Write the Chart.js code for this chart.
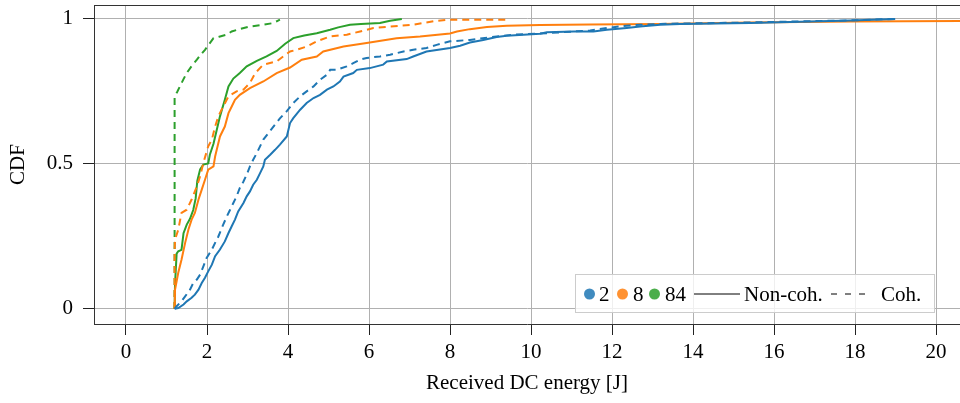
<!DOCTYPE html>
<html><head><meta charset="utf-8">
<script src="https://cdn.jsdelivr.net/npm/chart.js@4/dist/chart.umd.min.js"></script>
<style>
html,body{margin:0;padding:0;background:#fff;}
#wrap{position:relative;width:960px;height:403px;overflow:hidden;}
#legend{position:absolute;left:575px;top:274px;width:360px;height:39px;box-sizing:border-box;border:1px solid #cccccc;background:rgba(255,255,255,0.8);font-family:"Liberation Serif","Times New Roman",serif;font-size:21px;color:#000;}
#legend .i{position:absolute;top:19px;transform:translateY(-50%);white-space:nowrap;line-height:1;}
#legend .dot{width:11px;height:11px;border-radius:50%;}
</style>
</head><body>
<div id="wrap">
<canvas id="c" width="960" height="403"></canvas>
<div id="legend">
  <div class="i dot" style="left:8px;background:rgba(31,119,180,0.85)"></div>
  <div class="i" style="left:23px">2</div>
  <div class="i dot" style="left:41px;background:rgba(255,127,14,0.85)"></div>
  <div class="i" style="left:57px">8</div>
  <div class="i dot" style="left:73px;background:rgba(44,160,44,0.85)"></div>
  <div class="i" style="left:89px">84</div>
  <svg class="i" style="left:118px" width="46" height="4"><line x1="0" y1="2" x2="46" y2="2" stroke="#000" stroke-width="1"/></svg>
  <div class="i" style="left:168px">Non-coh.</div>
  <svg class="i" style="left:255px" width="36" height="4"><line x1="0" y1="2" x2="36" y2="2" stroke="#000" stroke-width="1" stroke-dasharray="6,8"/></svg>
  <div class="i" style="left:305px">Coh.</div>
</div>
</div>
<script>
// Tick labels
const xTicks = [0, 2, 4, 6, 8, 10, 12, 14, 16, 18, 20];
const yTicks = [0, 0.5, 1];

// N = 2, non-coherent
const n2NonCohX = [1.2, 1.29, 1.42, 1.50, 1.62, 1.70, 1.79, 1.87, 1.95, 2.03, 2.12, 2.20, 2.32, 2.44, 2.53, 2.61, 2.69, 2.77, 2.90, 2.98, 3.06, 3.14, 3.23, 3.31, 3.39, 3.43, 3.56, 3.68, 3.80, 3.97, 4.05, 4.13, 4.30, 4.46, 4.63, 4.79, 4.96, 5.12, 5.28, 5.37, 5.61, 5.70, 6.02, 6.35, 6.44, 6.93, 7.09, 7.42, 8.0, 8.25, 8.49, 8.82, 9.15, 9.40, 9.81, 10.22, 10.39, 11.05, 11.54, 11.87, 12.36, 12.69, 13.19, 13.68, 15.41, 17.88, 18.99];
const n2NonCohY = [0, 0.003, 0.015, 0.026, 0.038, 0.049, 0.066, 0.089, 0.107, 0.129, 0.152, 0.181, 0.204, 0.232, 0.261, 0.284, 0.307, 0.335, 0.364, 0.387, 0.404, 0.427, 0.444, 0.467, 0.490, 0.513, 0.530, 0.547, 0.565, 0.593, 0.639, 0.656, 0.685, 0.708, 0.725, 0.736, 0.754, 0.765, 0.782, 0.799, 0.811, 0.822, 0.828, 0.840, 0.851, 0.859, 0.868, 0.885, 0.897, 0.905, 0.916, 0.925, 0.935, 0.939, 0.943, 0.946, 0.951, 0.954, 0.954, 0.960, 0.966, 0.971, 0.977, 0.980, 0.983, 0.992, 0.997];

// N = 2, coherent
const n2CohX = [1.2, 1.25, 1.37, 1.46, 1.58, 1.66, 1.75, 1.83, 1.91, 1.99, 2.12, 2.20, 2.28, 2.40, 2.49, 2.57, 2.65, 2.73, 2.81, 2.90, 2.98, 3.06, 3.14, 3.23, 3.39, 3.64, 3.80, 3.97, 4.13, 4.30, 4.46, 4.63, 4.79, 4.96, 5.04, 5.20, 5.45, 5.61, 5.78, 5.94, 6.27, 6.52, 6.85, 7.09, 7.42, 7.67, 8.0, 8.49, 9.15, 9.56, 10.39, 11.05, 11.46, 11.87, 12.36, 12.69, 13.19, 15.41, 17.88, 18.99];
const n2CohY = [0, 0.009, 0.026, 0.043, 0.066, 0.089, 0.101, 0.118, 0.146, 0.175, 0.204, 0.227, 0.249, 0.290, 0.318, 0.341, 0.364, 0.387, 0.416, 0.438, 0.462, 0.490, 0.513, 0.536, 0.582, 0.627, 0.655, 0.680, 0.708, 0.731, 0.748, 0.765, 0.788, 0.805, 0.822, 0.822, 0.834, 0.845, 0.857, 0.863, 0.868, 0.874, 0.885, 0.891, 0.897, 0.908, 0.920, 0.925, 0.937, 0.943, 0.948, 0.954, 0.957, 0.966, 0.974, 0.977, 0.980, 0.985, 0.992, 0.997];

// N = 8, non-coherent
const n8NonCohX = [1.2, 1.21, 1.29, 1.37, 1.46, 1.54, 1.62, 1.70, 1.79, 1.87, 1.95, 2.03, 2.16, 2.20, 2.24, 2.32, 2.44, 2.53, 2.61, 2.69, 2.81, 3.06, 3.39, 3.72, 4.05, 4.34, 4.71, 4.87, 5.37, 5.94, 6.68, 7.26, 8.0, 8.17, 8.49, 8.91, 9.40, 10.22, 11.46, 13.19, 15.41, 17.88, 20.6];
const n8NonCohY = [0, 0.066, 0.124, 0.169, 0.227, 0.272, 0.307, 0.330, 0.376, 0.410, 0.444, 0.479, 0.490, 0.524, 0.547, 0.593, 0.627, 0.673, 0.696, 0.719, 0.736, 0.759, 0.782, 0.811, 0.830, 0.857, 0.868, 0.885, 0.902, 0.914, 0.931, 0.937, 0.947, 0.954, 0.962, 0.969, 0.974, 0.976, 0.978, 0.980, 0.985, 0.988, 0.990];

// N = 8, coherent
const n8CohX = [1.2, 1.2, 1.21, 1.29, 1.37, 1.50, 1.62, 1.75, 1.83, 1.91, 2.03, 2.12, 2.20, 2.28, 2.36, 2.53, 2.73, 2.90, 3.06, 3.19, 3.39, 3.72, 3.88, 4.05, 4.21, 4.46, 4.71, 5.04, 5.45, 5.78, 6.11, 6.52, 7.09, 7.59, 7.92, 9.4];
const n8CohY = [0, 0.2, 0.238, 0.272, 0.330, 0.341, 0.376, 0.421, 0.456, 0.502, 0.559, 0.582, 0.627, 0.662, 0.685, 0.731, 0.748, 0.754, 0.777, 0.811, 0.840, 0.851, 0.868, 0.885, 0.891, 0.902, 0.920, 0.937, 0.943, 0.954, 0.966, 0.971, 0.977, 0.989, 0.994, 0.994];

// N = 84, non-coherent
const n84NonCohX = [1.2, 1.21, 1.25, 1.29, 1.37, 1.42, 1.50, 1.58, 1.66, 1.72, 1.76, 1.83, 1.91, 2.03, 2.07, 2.16, 2.24, 2.32, 2.44, 2.53, 2.65, 2.81, 2.98, 3.23, 3.47, 3.72, 3.93, 4.13, 4.40, 4.71, 5.04, 5.24, 5.53, 5.80, 6.27, 6.52, 6.81];
const n84NonCohY = [0, 0.085, 0.19, 0.198, 0.203, 0.26, 0.29, 0.31, 0.34, 0.38, 0.44, 0.48, 0.496, 0.50, 0.53, 0.568, 0.615, 0.662, 0.719, 0.765, 0.792, 0.811, 0.834, 0.853, 0.868, 0.887, 0.912, 0.931, 0.94, 0.948, 0.960, 0.968, 0.977, 0.98, 0.983, 0.991, 0.997];

// N = 84, coherent
const n84CohX = [1.2, 1.2, 1.26, 1.33, 1.42, 1.50, 1.62, 1.75, 1.85, 1.95, 2.05, 2.16, 2.30, 2.49, 2.61, 2.80, 3.06, 3.39, 3.60, 3.72, 3.8];
const n84CohY = [0, 0.73, 0.745, 0.765, 0.79, 0.811, 0.835, 0.857, 0.875, 0.891, 0.91, 0.931, 0.936, 0.943, 0.954, 0.962, 0.971, 0.977, 0.982, 0.989, 0.995];

const BLUE = '#1f77b4', ORANGE = '#ff7f0e', GREEN = '#2ca02c';
const pts = (xs, ys) => xs.map((x, i) => ({x: x, y: ys[i]}));
const ds = (label, xs, ys, color, dashed) => ({
  label, data: pts(xs, ys), borderColor: color, backgroundColor: color,
  borderWidth: 2, borderDash: dashed ? [7, 5] : [], pointRadius: 0,
  tension: 0, fill: false
});

const FONT = {family: '"Liberation Serif", "Times New Roman", serif', size: 21};

const topBorder = {
  id: 'topBorder',
  afterDraw(chart) {
    const {ctx, chartArea} = chart;
    ctx.save();
    ctx.strokeStyle = '#333';
    ctx.lineWidth = 1;
    ctx.beginPath();
    ctx.moveTo(chartArea.left, chartArea.top + 0.5);
    ctx.lineTo(chartArea.right, chartArea.top + 0.5);
    ctx.stroke();
    ctx.restore();
  }
};

new Chart(document.getElementById('c'), {
  type: 'line',
  data: {
    datasets: [
      ds('2 Non-coh.', n2NonCohX, n2NonCohY, BLUE, false),
      ds('2 Coh.', n2CohX, n2CohY, BLUE, true),
      ds('8 Non-coh.', n8NonCohX, n8NonCohY, ORANGE, false),
      ds('8 Coh.', n8CohX, n8CohY, ORANGE, true),
      ds('84 Non-coh.', n84NonCohX, n84NonCohY, GREEN, false),
      ds('84 Coh.', n84CohX, n84CohY, GREEN, true)
    ]
  },
  options: {
    responsive: false,
    animation: false,
    devicePixelRatio: 1,
    layout: {padding: {top: 5, right: 0, left: 0, bottom: 0}},
    plugins: {legend: {display: false}, tooltip: {enabled: false}},
    scales: {
      x: {
        type: 'linear', min: -0.79, max: 20.59,
        afterBuildTicks: s => { s.ticks = xTicks.map(v => ({value: v})); },
        afterFit: s => { s.height = 79; s.paddingLeft = 0; s.paddingRight = 0; },
        ticks: {font: FONT, color: '#000', padding: 5, maxRotation: 0, autoSkip: false, callback: v => String(v)},
        grid: {color: '#b0b0b0', lineWidth: 1, tickColor: '#222', tickLength: 11},
        border: {color: '#333', width: 1},
        title: {display: true, text: 'Received DC energy [J]', font: FONT, color: '#000', padding: {top: 0, bottom: 7}}
      },
      y: {
        type: 'linear', min: -0.052, max: 1.045,
        afterBuildTicks: s => { s.ticks = yTicks.map(v => ({value: v})); },
        afterFit: s => { s.width = 94; s.paddingTop = 0; s.paddingBottom = 0; },
        ticks: {font: FONT, color: '#000', padding: 10, callback: v => String(v)},
        grid: {color: '#b0b0b0', lineWidth: 1, tickColor: '#222', tickLength: 11},
        border: {color: '#333', width: 1},
        title: {display: true, text: 'CDF', font: FONT, color: '#000', padding: {top: 6, bottom: 0}}
      }
    }
  },
  plugins: [topBorder]
});
</script>
</body></html>
